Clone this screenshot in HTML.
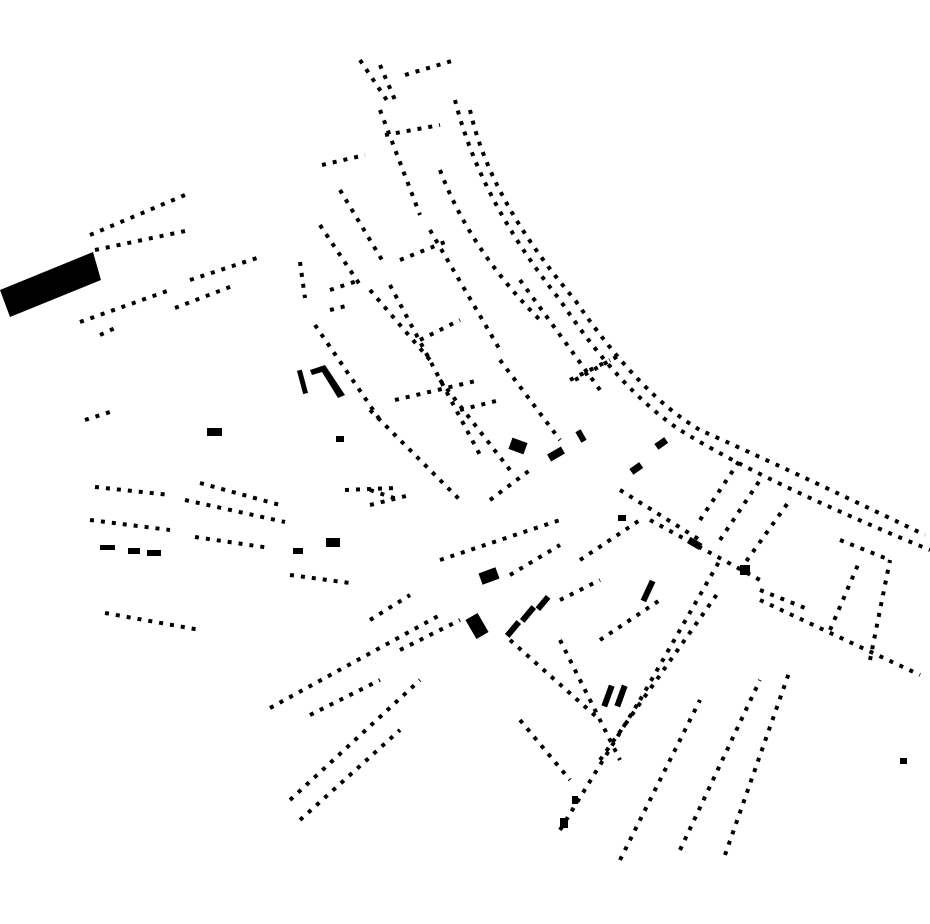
<!DOCTYPE html>
<html><head><meta charset="utf-8"><style>
html,body{margin:0;padding:0;background:#fff;}
svg{display:block}
</style></head><body>
<svg width="930" height="924" viewBox="0 0 930 924" xmlns="http://www.w3.org/2000/svg">
<rect width="930" height="924" fill="#fff"/>
<polygon points="0,290 93,252 101,280 10,317" fill="#000"/>
<g fill="none" stroke="#000" stroke-width="4" stroke-dasharray="4 7">
<path d="M90 235 L185 195"/>
<path d="M95 250 L190 230"/>
<path d="M80 322 L170 290"/>
<path d="M175 308 L235 285"/>
<path d="M190 280 L260 257"/>
<path d="M100 335 L115 328"/>
<path d="M85 420 L110 412"/>
<path d="M95 487 L170 495"/>
<path d="M200 483 L280 505"/>
<path d="M90 520 L170 530"/>
<path d="M185 500 L285 522"/>
<path d="M195 537 L270 548"/>
<path d="M290 575 L350 583"/>
<path d="M105 613 L200 630"/>
<path d="M300 262 L305 298"/>
<path d="M345 490 L395 488"/>
<path d="M370 505 L410 495"/>
<path d="M360 60 L390 105"/>
<path d="M380 65 L395 100"/>
<path d="M405 75 L455 60"/>
<path d="M385 135 L440 125"/>
<path d="M322 165 L365 155"/>
<path d="M380 110 L420 215"/>
<path d="M340 190 L385 265"/>
<path d="M320 225 L360 285"/>
<path d="M370 290 L430 360"/>
<path d="M390 285 L480 455"/>
<path d="M430 230 L500 350"/>
<path d="M400 260 L450 240"/>
<path d="M315 325 L380 420"/>
<path d="M370 410 L460 500"/>
<path d="M395 400 L480 380"/>
<path d="M330 290 L360 280"/>
<path d="M420 340 L460 320"/>
<path d="M440 380 L510 470"/>
<path d="M500 360 L560 440"/>
<path d="M520 280 L600 390"/>
<path d="M570 380 L610 360"/>
<path d="M460 410 L500 400"/>
<path d="M455 100 Q480 200 560 300 Q620 390 680 430 Q760 480 930 550"/>
<path d="M470 110 Q490 200 575 300 Q640 395 700 430 Q790 470 925 535"/>
<path d="M440 170 Q470 250 540 320"/>
<path d="M440 560 L560 520"/>
<path d="M490 500 L530 470"/>
<path d="M510 575 L560 545"/>
<path d="M580 560 L640 520"/>
<path d="M620 490 L700 540"/>
<path d="M650 520 L760 580"/>
<path d="M270 708 L440 615"/>
<path d="M290 800 L420 680"/>
<path d="M310 715 L380 680"/>
<path d="M300 820 L400 730"/>
<path d="M370 620 L410 595"/>
<path d="M400 650 L460 620"/>
<path d="M520 720 L570 780"/>
<path d="M560 830 L640 700"/>
<path d="M620 860 L700 700"/>
<path d="M680 850 L760 680"/>
<path d="M725 855 L790 670"/>
<path d="M510 640 L600 720"/>
<path d="M560 600 L600 580"/>
<path d="M600 640 L660 600"/>
<path d="M640 700 L720 560"/>
<path d="M600 760 L720 590"/>
<path d="M700 520 L740 460"/>
<path d="M720 540 L760 480"/>
<path d="M740 570 L790 500"/>
<path d="M560 640 L620 760"/>
<path d="M760 600 L920 675"/>
<path d="M830 630 L860 560"/>
<path d="M870 660 L890 560"/>
<path d="M840 540 L890 560"/>
<path d="M760 590 L810 610"/>
<path d="M575 380 L620 355"/>
<path d="M330 310 L350 305"/>
<path d="M370 490 L400 500"/>
</g>
<g fill="#000">
<rect x="207" y="428" width="15" height="8"/>
<rect x="326" y="538" width="14" height="9"/>
<rect x="293" y="548" width="10" height="6"/>
<rect x="100" y="545" width="15" height="5"/>
<rect x="128" y="548" width="12" height="6"/>
<rect x="147" y="550" width="14" height="6"/>
<rect x="300" y="370" width="5" height="24" transform="rotate(-15 302 382)"/>
<path d="M310 370 L325 365 L345 395 L338 398 L322 372 L312 375 Z"/>
<rect x="480" y="570" width="18" height="12" transform="rotate(-20 489 576)"/>
<rect x="470" y="615" width="14" height="22" transform="rotate(-30 477 626)"/>
<rect x="510" y="440" width="16" height="12" transform="rotate(20 518 446)"/>
<rect x="548" y="450" width="16" height="8" transform="rotate(-30 556 454)"/>
<rect x="605" y="685" width="6" height="22" transform="rotate(20 608 696)"/>
<rect x="618" y="685" width="6" height="22" transform="rotate(20 621 696)"/>
<rect x="645" y="580" width="6" height="22" transform="rotate(25 648 591)"/>
<rect x="688" y="540" width="14" height="7" transform="rotate(30 695 543)"/>
<rect x="740" y="565" width="10" height="10"/>
<rect x="900" y="758" width="7" height="6"/>
<rect x="510" y="620" width="6" height="18" transform="rotate(40 513 629)"/>
<rect x="525" y="605" width="6" height="18" transform="rotate(40 528 614)"/>
<rect x="540" y="595" width="6" height="16" transform="rotate(40 543 603)"/>
<rect x="560" y="818" width="8" height="10"/>
<rect x="655" y="440" width="12" height="7" transform="rotate(-35 661 443)"/>
<rect x="630" y="465" width="12" height="7" transform="rotate(-35 636 468)"/>
<rect x="578" y="430" width="6" height="12" transform="rotate(-30 581 436)"/>
<rect x="336" y="436" width="8" height="6"/>
<rect x="618" y="515" width="8" height="6"/>
<rect x="572" y="796" width="6" height="8"/>
</g>
</svg>
</body></html>
